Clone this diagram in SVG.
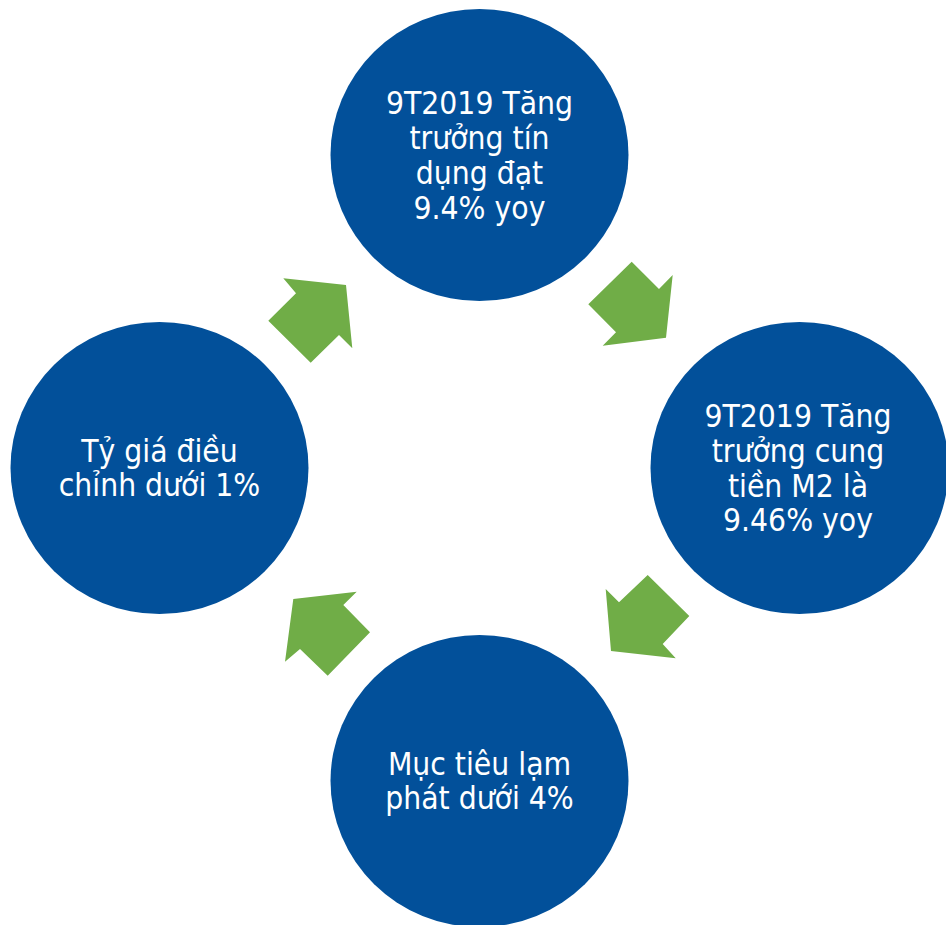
<svg xmlns="http://www.w3.org/2000/svg" width="946" height="925" viewBox="0 0 946 925">
  <style>
    .node { fill: #02509A; }
    .arrow { fill: #70AD47; }
    .label { fill: #FFFFFF; font-family: "DejaVu Sans Condensed", "DejaVu Sans", sans-serif; font-size: 31.5px; text-anchor: middle; }
  </style>
  <rect x="0" y="0" width="946" height="925" fill="#FFFFFF"/>

  <!-- cycle arrows -->
  <g id="connectors">
    <polygon class="arrow" points="283.3,278.3 346,285 352.3,348.3 339,335 310.7,362.7 268.3,320.7 296,293.3"/>
    <polygon class="arrow" points="631.7,261.7 659,289 672.7,275 666,337.7 602.7,345.7 616,332.3 588.3,304.3"/>
    <polygon class="arrow" points="647.7,575 689.3,616 662.7,644 675.7,658.3 611,651 605.7,589 619,602.3"/>
    <polygon class="arrow" points="293.3,599 356.7,591.7 343.3,605 370,632.3 327.7,675.7 300,649 285,661.7"/>
  </g>

  <g id="node-credit">
    <ellipse class="node" cx="479.5" cy="155" rx="149" ry="146"/>
    <text class="label" x="479.5" y="114">9T2019 Tăng</text>
    <text class="label" x="479.5" y="149">trưởng tín</text>
    <text class="label" x="479.5" y="184">dụng đạt</text>
    <text class="label" x="479.5" y="219">9.4% yoy</text>
  </g>

  <g id="node-m2">
    <ellipse class="node" cx="799.5" cy="468" rx="149" ry="146"/>
    <text class="label" x="798" y="427">9T2019 Tăng</text>
    <text class="label" x="798" y="462">trưởng cung</text>
    <text class="label" x="798" y="497">tiền M2 là</text>
    <text class="label" x="798" y="531">9.46% yoy</text>
  </g>

  <g id="node-inflation">
    <ellipse class="node" cx="479.5" cy="781" rx="149" ry="146"/>
    <text class="label" x="479.5" y="775">Mục tiêu lạm</text>
    <text class="label" x="479.5" y="809">phát dưới 4%</text>
  </g>

  <g id="node-fx">
    <ellipse class="node" cx="159.5" cy="468" rx="149" ry="146"/>
    <text class="label" x="159.5" y="462">Tỷ giá điều</text>
    <text class="label" x="159.5" y="496">chỉnh dưới 1%</text>
  </g>
</svg>
